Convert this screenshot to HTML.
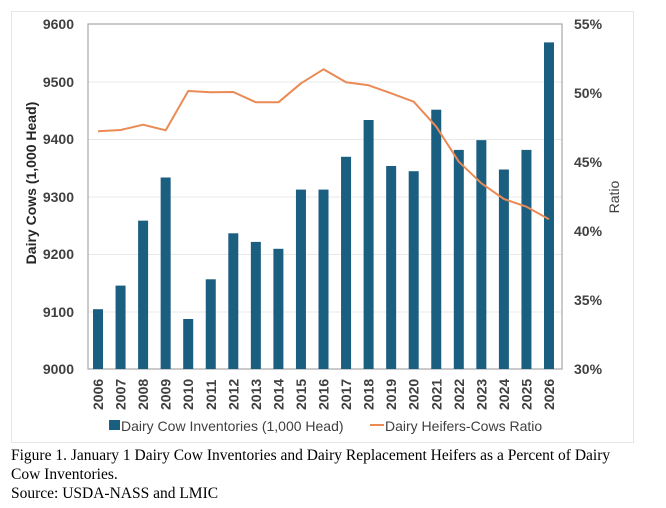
<!DOCTYPE html>
<html><head><meta charset="utf-8"><style>
body{margin:0;background:#fff;width:666px;height:508px;overflow:hidden}
svg{display:block}
</style></head><body>
<svg width="666" height="508" xmlns="http://www.w3.org/2000/svg" font-family="Liberation Sans, sans-serif">
<rect x="11.5" y="11.5" width="622" height="431" fill="#fff" stroke="#e6e6e6"/>
<g stroke="#e8e8e8" stroke-width="1">
<line x1="88" x2="562" y1="82" y2="82"/><line x1="88" x2="562" y1="139.5" y2="139.5"/>
<line x1="88" x2="562" y1="197" y2="197"/><line x1="88" x2="562" y1="254.5" y2="254.5"/>
<line x1="88" x2="562" y1="312" y2="312"/>
</g>
<rect x="88" y="24" width="474" height="345" fill="none" stroke="#a6a6a6" stroke-width="1.2"/>
<g fill="#1a5e80">
<rect x="93" y="309.2" width="10" height="59.8"/>
<rect x="115.55" y="285.6" width="10" height="83.4"/>
<rect x="138.1" y="220.65" width="10" height="148.35"/>
<rect x="160.65" y="177.5" width="10" height="191.5"/>
<rect x="183.2" y="319" width="10" height="50"/>
<rect x="205.75" y="279.3" width="10" height="89.7"/>
<rect x="228.3" y="233.3" width="10" height="135.7"/>
<rect x="250.85" y="241.9" width="10" height="127.1"/>
<rect x="273.4" y="248.8" width="10" height="120.2"/>
<rect x="295.95" y="189.6" width="10" height="179.4"/>
<rect x="318.5" y="189.6" width="10" height="179.4"/>
<rect x="341.05" y="156.8" width="10" height="212.2"/>
<rect x="363.6" y="120" width="10" height="249"/>
<rect x="386.15" y="166" width="10" height="203"/>
<rect x="408.7" y="171.2" width="10" height="197.8"/>
<rect x="431.25" y="109.7" width="10" height="259.3"/>
<rect x="453.8" y="149.9" width="10" height="219.1"/>
<rect x="476.35" y="140.15" width="10" height="228.85"/>
<rect x="498.9" y="169.5" width="10" height="199.5"/>
<rect x="521.45" y="149.9" width="10" height="219.1"/>
<rect x="544" y="42.4" width="10" height="326.6"/>
</g>
<polyline fill="none" stroke="#ea8a55" stroke-width="2" stroke-linejoin="round" points="98,131.3 120.6,130 143.1,124.7 165.7,130.3 188.2,91 210.8,92.3 233.3,92 255.9,102.3 278.4,102.3 301,83.3 323.5,69.3 346.1,82.3 368.6,85.3 391.2,93.3 413.7,101.7 436.3,126.7 458.8,161.7 481.4,183.3 503.9,199 526.5,206.7 549,219.3"/>
<g font-size="14" font-weight="bold" fill="#404040" text-anchor="end">
<text x="74" y="29">9600</text><text x="74" y="87">9500</text><text x="74" y="144">9400</text>
<text x="74" y="202">9300</text><text x="74" y="259">9200</text><text x="74" y="317">9100</text><text x="74" y="374">9000</text>
</g>
<g font-size="14" font-weight="bold" fill="#404040">
<text x="574" y="29">55%</text><text x="574" y="98">50%</text><text x="574" y="167">45%</text>
<text x="574" y="236">40%</text><text x="574" y="305">35%</text><text x="574" y="374">30%</text>
</g>
<text transform="translate(36,183) rotate(-90)" font-size="14" font-weight="bold" fill="#262626" text-anchor="middle">Dairy Cows (1,000 Head)</text>
<text transform="translate(619,197) rotate(-90)" font-size="14" fill="#404040" text-anchor="middle">Ratio</text>
<g font-size="14" font-weight="bold" fill="#404040">
<text transform="translate(103,410) rotate(-90)">2006</text>
<text transform="translate(125.55,410) rotate(-90)">2007</text>
<text transform="translate(148.1,410) rotate(-90)">2008</text>
<text transform="translate(170.65,410) rotate(-90)">2009</text>
<text transform="translate(193.2,410) rotate(-90)">2010</text>
<text transform="translate(215.75,410) rotate(-90)">2011</text>
<text transform="translate(238.3,410) rotate(-90)">2012</text>
<text transform="translate(260.85,410) rotate(-90)">2013</text>
<text transform="translate(283.4,410) rotate(-90)">2014</text>
<text transform="translate(305.95,410) rotate(-90)">2015</text>
<text transform="translate(328.5,410) rotate(-90)">2016</text>
<text transform="translate(351.05,410) rotate(-90)">2017</text>
<text transform="translate(373.6,410) rotate(-90)">2018</text>
<text transform="translate(396.15,410) rotate(-90)">2019</text>
<text transform="translate(418.7,410) rotate(-90)">2020</text>
<text transform="translate(441.25,410) rotate(-90)">2021</text>
<text transform="translate(463.8,410) rotate(-90)">2022</text>
<text transform="translate(486.35,410) rotate(-90)">2023</text>
<text transform="translate(508.9,410) rotate(-90)">2024</text>
<text transform="translate(531.45,410) rotate(-90)">2025</text>
<text transform="translate(554,410) rotate(-90)">2026</text>
</g>
<rect x="109" y="420" width="11" height="10" fill="#1a5e80"/>
<text x="121" y="431" font-size="14" fill="#404040">Dairy Cow Inventories (1,000 Head)</text>
<line x1="370" x2="384" y1="425" y2="425" stroke="#ea8a55" stroke-width="2"/>
<text x="385" y="431" font-size="14" fill="#404040">Dairy Heifers-Cows Ratio</text>
<g font-family="Liberation Serif, serif" font-size="15.5" fill="#000">
<text x="11" y="460">Figure 1. January 1 Dairy Cow Inventories and Dairy Replacement Heifers as a Percent of Dairy</text>
<text x="11" y="479">Cow Inventories.</text>
<text x="11" y="498">Source: USDA-NASS and LMIC</text>
</g>
</svg>
</body></html>
